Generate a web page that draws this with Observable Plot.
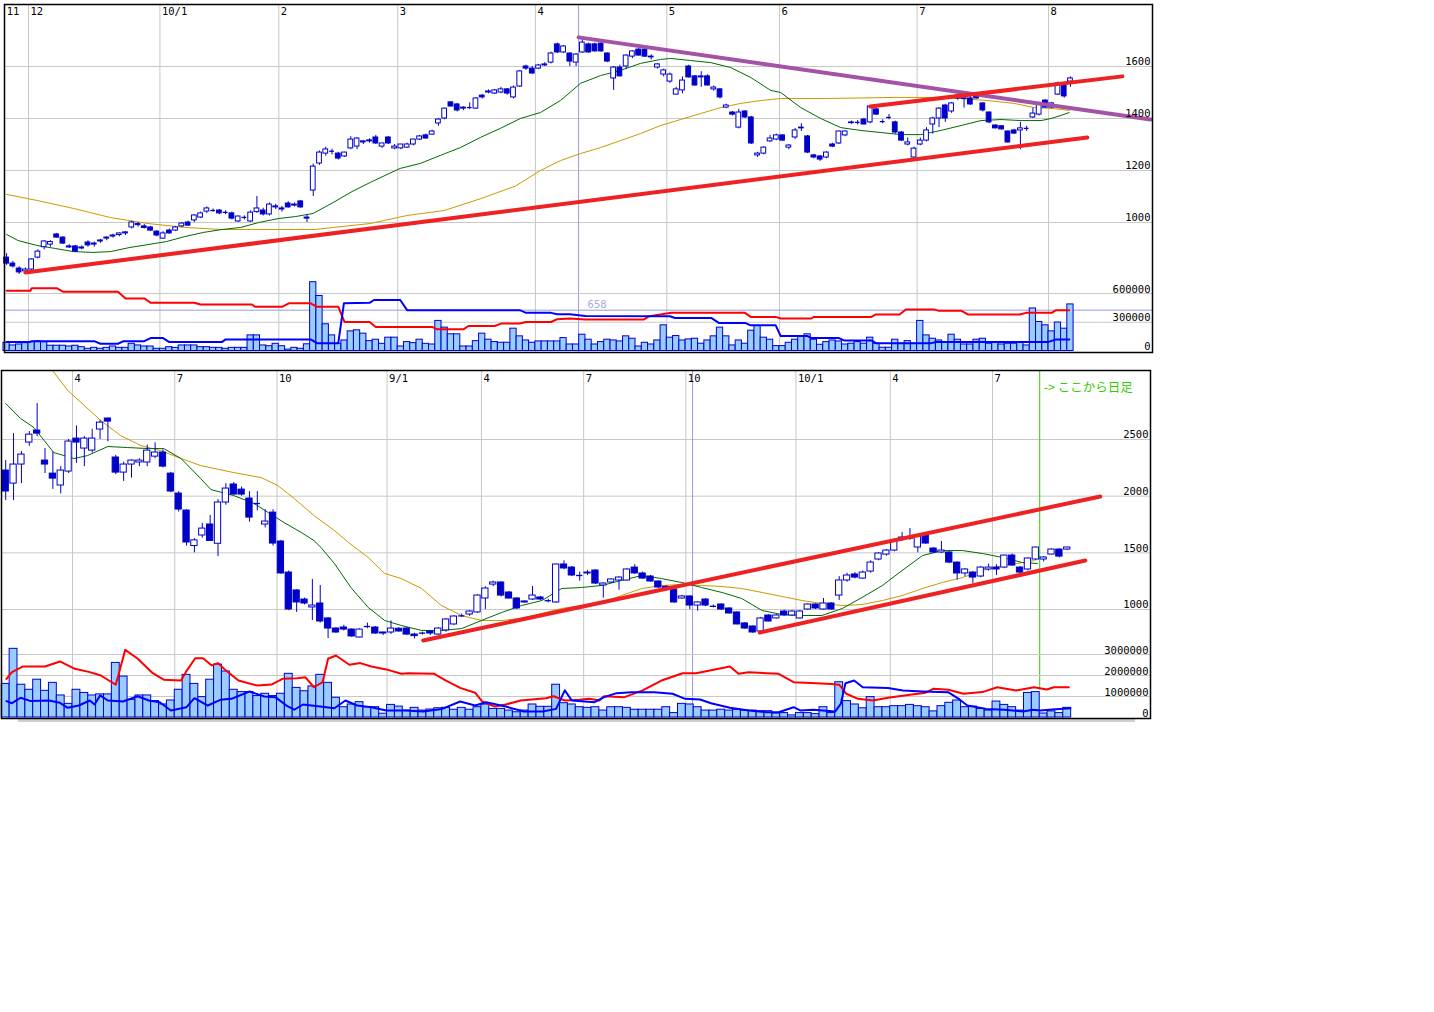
<!DOCTYPE html>
<html><head><meta charset="utf-8">
<script src="https://cdn.jsdelivr.net/npm/d3@7"></script>
<script src="https://cdn.jsdelivr.net/npm/@observablehq/plot@0.6"></script>
<style>
body{margin:0;background:#fff;}
#wrap{position:relative;width:1434px;height:1012px;overflow:hidden;background:#fff;}
#wrap svg{position:absolute;left:0;top:0;}
#scroll{position:absolute;left:18px;top:719px;width:1117px;height:3px;background:#cfcfcf;}
</style></head><body><div id="wrap"><div id="scroll"></div></div>
<script>
// ---------------- TOP PANEL (daily) ----------------
const topMonthLabels = ["11","12","10/1","2","3","4","5","6","7","8"];
const topMonthPos = [-0.3,3.5,24.5,43.5,62.5,84.5,105.5,123.5,145.5,166.5];
const topPriceTicks = [1000,1200,1400,1600];
const topVolTicks = [0,300,600];
const topVolLabels = ["0","300000","600000"];
// [open, high, low, close]
const topCandles = [
[865,880,835,842],[842,850,825,831],[823,830,800,808],[812,825,805,819],[819,860,815,858],
[865,895,860,888],[905,930,895,927],[915,930,905,925],[954,958,940,942],[942,945,915,919],
[908,915,900,904],[908,912,885,888],[900,910,895,904],[923,930,905,912],[915,925,905,919],
[927,935,920,931],[938,945,930,942],[946,955,940,950],[952,960,945,958],[958,965,950,962],
[981,1005,975,1000],[990,1000,982,994],[985,992,975,979],[981,985,965,969],[965,968,945,950],
[938,965,935,958],[969,975,955,958],[969,985,965,981],[985,1000,980,996],[1000,1005,985,988],
[1008,1030,1000,1027],[1019,1040,1015,1035],[1042,1060,1035,1054],[1046,1052,1040,1046],[1046,1050,1030,1035],
[1038,1045,1030,1040],[1035,1040,1010,1015],[1004,1025,1000,1023],[1019,1025,1010,1020],[1004,1045,1000,1038],
[1040,1100,1035,1054],[1046,1055,1025,1031],[1031,1075,1025,1069],[1058,1070,1050,1062],[1054,1062,1040,1050],
[1073,1080,1055,1058],[1065,1075,1060,1069],[1081,1085,1055,1058],[1019,1030,1000,1015],[1123,1225,1100,1215],
[1227,1275,1220,1269],[1265,1290,1255,1281],[1275,1282,1260,1273],[1265,1270,1240,1246],[1254,1270,1250,1269],
[1285,1330,1280,1319],[1292,1327,1280,1323],[1308,1315,1300,1312],[1312,1322,1305,1316],[1327,1335,1300,1304],
[1292,1305,1285,1304],[1327,1330,1300,1304],[1285,1300,1280,1292],[1285,1300,1280,1300],[1288,1305,1285,1300],
[1300,1320,1295,1319],[1319,1335,1315,1331],[1335,1340,1320,1323],[1338,1355,1335,1350],[1381,1400,1370,1396],
[1400,1440,1395,1438],[1462,1465,1445,1446],[1454,1458,1425,1431],[1438,1445,1430,1442],[1442,1460,1435,1442],
[1438,1480,1435,1477],[1488,1492,1475,1481],[1500,1510,1495,1504],[1496,1512,1492,1508],[1500,1520,1495,1512],
[1512,1515,1490,1496],[1481,1525,1475,1519],[1523,1585,1520,1581],[1600,1605,1585,1592],[1592,1600,1570,1573],
[1592,1608,1588,1604],[1604,1615,1600,1608],[1615,1655,1610,1650],[1685,1690,1650,1654],[1654,1680,1650,1677],
[1650,1652,1600,1619],[1615,1650,1600,1646],[1654,1705,1650,1692],[1685,1690,1650,1654],[1685,1690,1655,1658],
[1688,1692,1655,1658],[1650,1652,1615,1619],[1554,1600,1508,1596],[1596,1605,1560,1562],[1600,1645,1590,1642],
[1638,1660,1630,1658],[1665,1670,1640,1642],[1665,1668,1635,1638],[1638,1645,1625,1635],[1596,1612,1590,1608],
[1569,1590,1560,1585],[1542,1575,1535,1569],[1492,1520,1490,1512],[1508,1560,1495,1546],[1600,1605,1555,1558],
[1562,1565,1525,1527],[1558,1580,1520,1562],[1562,1568,1525,1527],[1512,1525,1505,1519],[1512,1515,1475,1481],
[1442,1455,1438,1450],[1423,1427,1410,1415],[1365,1435,1360,1423],[1427,1430,1400,1404],[1404,1408,1300,1304],
[1258,1270,1250,1265],[1265,1292,1260,1288],[1312,1335,1308,1323],[1319,1340,1315,1335],[1335,1338,1312,1315],
[1288,1300,1280,1296],[1327,1362,1320,1354],[1362,1380,1350,1365],[1331,1335,1265,1269],[1258,1262,1245,1250],
[1254,1258,1235,1242],[1250,1272,1245,1269],[1300,1305,1288,1292],[1304,1352,1300,1350],[1335,1352,1330,1350],
[1382,1390,1378,1385],[1385,1392,1375,1385],[1396,1400,1375,1377],[1385,1450,1380,1446],[1435,1438,1412,1415],
[1388,1395,1380,1388],[1404,1415,1395,1404],[1385,1390,1340,1346],[1346,1350,1312,1315],[1300,1325,1295,1308],
[1250,1290,1240,1284],[1300,1325,1295,1315],[1315,1365,1310,1354],[1377,1405,1340,1400],[1400,1442,1365,1438],
[1450,1455,1385,1400],[1427,1462,1420,1458],[1477,1500,1470,1488],[1475,1490,1440,1480],[1477,1485,1450,1454],
[1488,1495,1475,1477],[1458,1460,1425,1431],[1423,1425,1380,1385],[1373,1376,1360,1362],[1370,1373,1355,1358],
[1350,1352,1305,1308],[1354,1358,1338,1342],[1354,1385,1280,1362],[1362,1370,1350,1362],[1404,1440,1400,1419],
[1415,1462,1410,1458],[1469,1472,1440,1442],[1442,1462,1438,1458],[1492,1540,1488,1535],[1531,1535,1478,1485],
[1542,1560,1520,1554]
];
// volume in thousands of shares
const topVolume = [
86,58,68,82,93,100,93,55,55,55, 47,55,40,23,33,23,33,47,33,33,
75,58,47,47,23,23,40,33,58,58, 58,40,40,33,33,23,33,33,33,163,
163,58,50,75,50,15,33,23,70,718, 574,279,163,75,110,205,216,181,103,118,
75,139,139,47,93,82,118,75,68,314, 244,174,174,47,47,103,181,118,93,86,
86,233,153,110,86,100,100,100,100,135, 68,68,170,118,68,93,118,110,100,153,
128,47,86,68,110,268,139,156,110,121, 128,76,110,153,244,153,58,110,76,212,
261,139,118,51,51,86,118,156,174,118, 65,93,110,100,68,76,93,76,139,76,
34,34,118,76,103,76,314,163,128,110, 86,170,118,68,68,118,128,76,86,68,
76,76,86,58,444,303,268,205,297,233, 486
];
// moving averages [candle index, price]
const topMA25 = [[0,954],[1.8,931],[4.8,912],[7.8,900],[10.7,888],[13.8,885],[16.6,888],[19.7,904],[22.6,915],[25.6,927],[28.5,946],[31.5,962],[34.4,973],[37.4,981],[40.3,1000],[43.4,1015],[46.2,1023],[49,1035],[52.2,1077],[55.2,1119],[58.1,1154],[61.1,1188],[62.9,1208],[66.1,1227],[69.3,1258],[72.5,1288],[75.7,1327],[78.9,1362],[82.1,1400],[85.3,1423],[88.5,1469],[91.7,1535],[94.9,1565],[98.1,1585],[101.3,1612],[104.5,1627],[106.1,1631],[109.3,1623],[112.5,1615],[115.7,1596],[118.9,1558],[122.1,1508],[123.7,1500],[126.9,1442],[130.1,1400],[133.3,1365],[136.5,1354],[139.7,1346],[142.9,1338],[146.1,1338],[149.3,1354],[152.5,1373],[155.7,1392],[158.9,1396],[162.1,1392],[165.3,1392],[166.9,1400],[168.5,1412],[169.8,1423]];
const topMA75 = [[0,1108],[4.8,1085],[10.7,1054],[16.6,1019],[22.6,996],[28.5,981],[34.4,973],[40.3,973],[46.2,973],[49.3,973],[52.2,981],[58.1,996],[64,1027],[69.9,1046],[75.8,1092],[81.3,1140],[85.3,1200],[88.5,1238],[91.7,1265],[94.9,1288],[98.1,1315],[101.3,1342],[104.5,1373],[107.7,1396],[110.9,1419],[114.1,1442],[117.3,1458],[120.5,1469],[123.7,1477],[131.2,1477],[141.8,1481],[149.8,1481],[156.8,1469],[161,1458],[164.2,1442],[167.4,1438],[169.8,1431]];
const topTrendRed1 = [[3.0,808],[172.7,1327]];
const topTrendRed2 = [[138.0,1446],[178.3,1562]];
const topTrendPurple = [[91.4,1712],[182.8,1396]];
// margin balance lines (thousands) [index, value]
const topVolRed = [[0,629],[3.8,629],[4,655],[8,655],[9,619],[17.8,619],[19,549],[22,549],[23,503],[30,503],[31,486],[39.2,486],[39.7,461],[44,461],[45.1,497],[48.6,497],[49.6,461],[53,461],[54,303],[58,303],[59,251],[68,251],[68.8,226],[73,226],[73.8,261],[78,261],[79,286],[82,286],[83,303],[87,303],[88,332],[90,339],[92.5,328],[101.8,328],[102.7,363],[106.2,398],[118,398],[118.9,356],[122.9,356],[123.7,339],[128.6,339],[129,356],[138.2,356],[138.9,381],[142.7,381],[143.7,434],[148.2,434],[149,419],[152.6,419],[153.6,381],[161.9,381],[162.9,398],[167,398],[167.7,426],[169.8,426]];
const topVolBlue = [[0,93],[3.7,93],[4,103],[14,103],[15,76],[17.8,76],[18.7,103],[22,103],[23,135],[25,135],[26,93],[34.4,93],[35,121],[48.6,121],[49.6,82],[53,82],[53.9,497],[58,503],[58.7,532],[62.9,532],[64,426],[82,426],[83,398],[87,398],[88,384],[90,384],[92.5,366],[106,363],[106.8,345],[112.6,345],[113.8,293],[118,293],[118.9,268],[122.9,268],[123.7,156],[128,156],[128.6,135],[133,135],[133.8,110],[138.2,110],[138.9,82],[147.8,82],[148.5,93],[166.4,93],[167.7,121],[169.8,121]];
const topCursorX = 91.4, topCursorVol = 426, topCursorLabel = "658";

// ---------------- BOTTOM PANEL (weekly, then daily) ----------------
const botMonthLabels = ["4","7","10","9/1","4","7","10","10/1","4","7"];
const botMonthPos = [8.5,21.5,34.5,48.5,60.5,73.5,86.5,100.5,112.5,125.5];
const botPriceTicks = [1000,1500,2000,2500];
const botVolTicks = [0,1,2,3];
const botVolLabels = ["0","1000000","2000000","3000000"];
const botCandles = [
[2226,2314,1961,2041],[2111,2552,1961,2279],[2279,2393,2111,2367],[2473,2570,2440,2543],[2579,2817,2526,2552],
[2314,2420,2200,2279],[2199,2390,2060,2155],[2094,2260,2020,2226],[2217,2500,2200,2482],[2508,2620,2290,2473],
[2420,2526,2260,2508],[2402,2590,2380,2508],[2588,2670,2500,2649],[2685,2690,2480,2658],[2341,2360,2190,2208],
[2208,2300,2130,2279],[2279,2320,2160,2314],[2297,2330,2260,2314],[2297,2450,2260,2402],[2349,2470,2330,2385],
[2385,2410,2250,2261],[2199,2210,2030,2041],[2023,2040,1860,1882],[1873,1880,1560,1591],[1560,1625,1500,1610],
[1653,1760,1630,1714],[1750,1830,1600,1605],[1580,1970,1467,1944],[1944,2110,1920,2067],[2103,2120,2010,2014],
[2058,2080,2000,2014],[1979,2040,1770,1811],[1935,2040,1870,1935],[1750,1880,1720,1776],[1855,1880,1560,1582],
[1600,1610,1310,1318],[1326,1340,990,1000],[1168,1175,974,1062],[1088,1100,1040,1053],[1018,1265,903,1035],
[1053,1212,880,894],[921,930,744,832],[832,840,790,797],[841,860,810,823],[823,830,755,762],
[753,830,750,823],[850,880,830,850],[841,850,780,788],[797,800,770,788],[797,900,780,832],
[830,840,800,806],[832,840,770,779],[779,790,740,765],[788,800,775,795],[806,815,770,788],
[779,840,770,832],[815,920,800,912],[868,945,860,938],[940,960,930,947],[956,990,940,982],
[974,1130,965,1123],[1097,1200,1000,1185],[1220,1250,1200,1238],[1238,1245,1110,1123],[1150,1160,1090,1097],
[1097,1105,1000,1009],[1062,1075,1055,1071],[1088,1203,1080,1123],[1106,1115,1080,1088],[1075,1090,1060,1080],
[1062,1400,1055,1397],[1397,1430,1350,1362],[1370,1380,1290,1300],[1300,1330,1250,1300],[1318,1345,1300,1326],
[1344,1350,1220,1229],[1212,1235,1100,1229],[1238,1272,1230,1265],[1256,1290,1170,1282],[1256,1360,1250,1353],
[1370,1395,1310,1318],[1318,1330,1265,1273],[1291,1300,1240,1247],[1247,1255,1185,1194],[1200,1210,1170,1190],
[1176,1180,1055,1062],[1097,1125,1090,1115],[1115,1120,1000,1035],[1035,1070,985,1062],[1088,1095,1025,1035],
[1030,1040,1015,1026],[1044,1050,990,1000],[1009,1015,960,965],[974,980,865,868],[877,885,825,832],
[850,855,790,797],[806,930,800,921],[947,955,890,894],[921,955,915,947],[982,995,940,947],
[947,990,940,982],[921,990,915,982],[1000,1050,995,1044],[1044,1050,1000,1009],[1000,1097,995,1053],
[1053,1060,995,1000],[1123,1290,1080,1256],[1256,1320,1240,1300],[1309,1325,1270,1282],[1273,1340,1265,1326],
[1335,1430,1320,1414],[1441,1500,1430,1494],[1485,1530,1470,1520],[1520,1615,1510,1608],[1626,1679,1600,1635],
[1625,1714,1610,1640],[1547,1660,1500,1653],[1653,1660,1575,1582],[1538,1545,1495,1503],[1503,1600,1494,1520],
[1503,1510,1405,1414],[1414,1420,1260,1318],[1318,1362,1290,1353],[1326,1335,1230,1282],[1291,1380,1280,1370],
[1353,1400,1340,1370],[1370,1395,1300,1353],[1370,1480,1360,1476],[1476,1490,1380,1388],[1370,1380,1310,1326],
[1353,1455,1340,1450],[1441,1550,1430,1547],[1441,1465,1420,1459],[1485,1535,1480,1529],[1529,1535,1455,1467],
[1529,1550,1520,1547]
];
// volume in millions of shares
const botVolume = [
1.60,3.27,1.56,1.32,1.80,1.27,1.65,1.05,0.65,1.32, 1.17,1.05,1.10,1.10,2.60,1.95,0.84,1.05,1.05,0.78,
0.62,0.81,1.32,2.03,1.60,0.97,1.80,2.52,2.19,1.32, 1.21,1.21,1.02,1.13,1.02,1.13,2.08,1.41,1.25,1.48,
2.03,1.65,0.94,0.49,0.62,0.73,0.49,0.49,0.18,0.60, 0.52,0.33,0.46,0.33,0.38,0.44,0.46,0.37,0.46,0.37,
0.49,0.62,0.41,0.41,0.33,0.25,0.33,0.62,0.51,0.51, 1.56,0.68,0.62,0.49,0.46,0.49,0.33,0.49,0.49,0.46,
0.37,0.37,0.37,0.37,0.49,0.21,0.65,0.62,0.49,0.33, 0.33,0.37,0.33,0.37,0.33,0.33,0.30,0.30,0.19,0.21,
0.10,0.21,0.21,0.16,0.49,0.21,1.68,0.78,0.62,0.44, 0.97,0.49,0.49,0.54,0.54,0.60,0.54,0.49,0.29,0.54,
0.70,0.81,0.49,0.52,0.41,0.33,0.76,0.60,0.49,0.33, 1.17,1.21,0.19,0.29,0.21,0.46
];
const botMA13 = [[0,2817],[1.9,2685],[3.6,2605],[6.1,2385],[8.7,2332],[10.4,2358],[13,2438],[15.5,2429],[18.1,2420],[20.1,2420],[22.3,2332],[24.8,2155],[26.1,2058],[29,2005],[31.6,1935],[33.4,1855],[35.4,1767],[37.6,1679],[39.2,1609],[40.1,1547],[41.8,1406],[43.9,1194],[46.1,1018],[48.2,903],[50.3,859],[52.9,815],[55.4,815],[58,832],[60.5,903],[63.1,974],[65.6,1035],[68.2,1079],[70.7,1185],[73.2,1194],[75.8,1212],[78.3,1256],[80.9,1300],[83.4,1273],[86,1238],[88.5,1194],[91.1,1150],[93.6,1097],[96.2,991],[98.7,956],[101.3,947],[103.8,947],[106.4,1009],[108.9,1106],[111.5,1212],[114,1344],[116.6,1476],[119.1,1520],[121.7,1520],[124.2,1494],[126.8,1459],[129.3,1414],[131.2,1406]];
const botMA26 = [[5.5,3150],[7.9,2932],[12.1,2667],[14.6,2535],[17.2,2446],[19.7,2402],[22.3,2332],[24.8,2270],[29,2208],[32.5,2164],[34.6,2094],[36.7,1979],[39.2,1829],[41.8,1697],[43.6,1591],[46.1,1459],[48.2,1318],[50.3,1273],[52.9,1185],[55.4,1035],[58,947],[60.5,903],[63.1,903],[65.6,921],[68.2,965],[70.7,1009],[73.2,1035],[75.8,1062],[78.3,1123],[80.9,1185],[83.4,1212],[86,1220],[88.5,1212],[91.1,1203],[93.6,1185],[96.2,1150],[98.7,1115],[101.3,1079],[103.8,1053],[106.4,1035],[108.9,1044],[111.5,1079],[114,1123],[116.6,1185],[119.1,1238],[121.7,1282],[124.2,1344],[126.8,1388],[129.3,1414],[130.8,1432]];
const botTrendRed1 = [[53.1,727],[139.2,1997]];
const botTrendRed2 = [[95.9,797],[137.3,1432]];
const botVolRed = [[0.1,1.84],[0.8,2.16],[2.2,2.43],[5,2.43],[6.9,2.67],[8.8,2.32],[10.7,2.16],[12.1,2.0],[14,1.56],[15.2,3.22],[16.8,2.80],[18.7,2.11],[20.1,1.80],[22.3,1.76],[22.9,2.16],[24.1,2.82],[25.1,2.82],[26.2,2.48],[27,2.59],[27.9,2.27],[29.6,1.76],[32,1.52],[33.8,1.57],[35.2,1.84],[37.1,1.87],[38.1,1.92],[39.2,1.44],[40.3,1.68],[41,2.80],[42,2.95],[43.7,2.51],[45.1,2.59],[46.5,2.43],[48.4,2.29],[50.3,2.08],[51.2,2.11],[54.5,2.08],[56,1.76],[57.8,1.41],[59.7,1.18],[60.6,0.76],[62.2,0.52],[63.6,0.62],[65.5,0.81],[68.7,0.92],[69.7,1.01],[71.1,0.81],[73,0.84],[74.2,0.89],[75.5,0.81],[76.1,1.01],[78.7,0.97],[81,1.29],[83.4,1.76],[86.1,2.11],[87.8,2.11],[92.1,2.43],[93.2,2.08],[94.5,2.16],[96.8,2.11],[98.3,2.08],[100.2,1.68],[103.1,1.63],[105,1.60],[106,1.56],[106.9,1.13],[108.4,0.89],[110.3,0.81],[112.2,0.94],[115,1.08],[117,1.18],[118,1.37],[119.9,1.32],[121.8,1.13],[124.2,1.21],[126.1,1.44],[128.5,1.29],[130.8,1.44],[132.4,1.33],[133.3,1.44],[135.2,1.44]];
const botVolBlue = [[0.1,0.78],[0.8,0.68],[1.9,0.94],[3.2,0.78],[5.5,0.81],[6.9,0.70],[7.9,0.46],[9.3,0.57],[10.7,0.81],[11.3,0.62],[12,1.05],[13,0.81],[14.9,0.76],[16.8,1.01],[18.2,0.81],[19.6,0.73],[21,0.33],[23,0.49],[24,0.92],[25.7,0.57],[27.3,0.84],[28.7,0.89],[31,1.24],[32.9,1.0],[34.3,0.97],[35.7,0.57],[36.7,0.37],[37.8,0.62],[40,0.52],[41.8,0.44],[43.2,0.81],[44.7,0.57],[46.5,0.49],[48.4,0.33],[50.8,0.33],[53.1,0.29],[55.5,0.41],[57.8,0.76],[59.7,0.57],[61.1,0.73],[63.6,0.52],[65.9,0.29],[68.3,0.29],[70,0.41],[71.1,1.29],[72,0.81],[74.9,0.73],[76.1,0.97],[77.7,1.16],[79.6,1.20],[82.5,1.20],[84.8,1.13],[86.4,0.89],[88.3,0.86],[89.7,0.68],[92.1,0.46],[94.5,0.33],[96.8,0.25],[98.3,0.25],[100.2,0.49],[101.1,0.33],[102.7,0.37],[105.5,0.29],[106.2,0.65],[106.8,1.63],[107.9,1.76],[109,1.44],[112.2,1.41],[114.1,1.29],[116.6,1.24],[119.9,1.20],[121.3,0.86],[122.3,0.57],[124.7,0.41],[127,0.37],[129.4,0.29],[130.6,0.37],[131.6,0.33],[132.7,0.37],[135.4,0.44]];
const botCursorX = 87.35;
const dailyStartX = 131.5;
const dailyLabel = "-> ここから日足";

// ---------------- drawing ----------------
const W = 1160, H = 730;
const CANDLE = "#0000c8", GRID = "#c8c8c8", LAV = "#9b9be0";
const MA_SHORT = "#006a00", MA_LONG = "#cc9900", TREND = "#ee2222", PURPLE = "#a452a6";
const VOLFILL = "#99ccff", VOLSTROKE = "#0000cc";
const NUMFONT = "DejaVu Sans Mono";
const wrap = document.getElementById("wrap");
const P = d => d[0], V = d => d[1];

function rows(arr){ return arr.map(([o,h,l,c],i)=>({i,o,h,l,c})); }
function candleMarks(data, hw, flatTol){
  const bodies = data.filter(d => Math.abs(d.o-d.c) >= flatTol);
  const flats = data.filter(d => Math.abs(d.o-d.c) < flatTol);
  return [
    Plot.ruleX(data, {x:"i", y1:"l", y2:"h", stroke: CANDLE, strokeWidth: 1}),
    Plot.rect(bodies, {x1: d=>d.i-hw, x2: d=>d.i+hw, y1:"o", y2:"c",
      fill: d => d.c > d.o ? "white" : CANDLE, stroke: CANDLE, strokeWidth: 1}),
    Plot.ruleY(flats, {y: d=>(d.o+d.c)/2, x1: d=>d.i-hw, x2: d=>d.i+hw, stroke: CANDLE, strokeWidth: 1.3})
  ];
}
function add(svg){ wrap.appendChild(svg); }

const topM = {width: W, height: H, marginTop: 4, marginBottom: H-352, marginLeft: 4, marginRight: W-1152,
  style: {background: "transparent", overflow: "visible"}};
const topX = {domain: [-0.336, 183.11], range: [4, 1152], axis: null};
const numText = {fontFamily: NUMFONT, fontSize: 10.5, fill: "black"};

// top price
add(Plot.plot({...topM, x: topX,
  y: {domain: [500, 1838.46], range: [352, 4], axis: null},
  marks: [
    Plot.ruleY(topPriceTicks, {stroke: GRID}),
    Plot.ruleX(topMonthPos.slice(1), {stroke: GRID}),
    Plot.ruleX([topCursorX], {stroke: LAV}),
    Plot.line(topMA75, {x: P, y: V, stroke: MA_LONG, strokeWidth: 1}),
    Plot.line(topMA25, {x: P, y: V, stroke: MA_SHORT, strokeWidth: 1}),
    ...candleMarks(rows(topCandles), 0.38, 3),
    Plot.line(topTrendRed1, {x: P, y: V, stroke: TREND, strokeWidth: 4, clip: true}),
    Plot.line(topTrendPurple, {x: P, y: V, stroke: PURPLE, strokeWidth: 4, clip: true}),
    Plot.line(topTrendRed2, {x: P, y: V, stroke: TREND, strokeWidth: 4, clip: true}),
    Plot.text(topPriceTicks, {y: d=>d, text: d=>String(d), frameAnchor: "right", textAnchor: "end", lineAnchor: "bottom", dx: -2, dy: -1, ...numText}),
    Plot.text(topMonthPos.map((x,k)=>({x, t: topMonthLabels[k]})), {x: "x", text: "t", frameAnchor: "top", textAnchor: "start", lineAnchor: "top", dx: 2, dy: 3, ...numText})
  ]}));

// top volume
add(Plot.plot({...topM, x: topX,
  y: {domain: [0, 600], range: [350.5, 293], axis: null},
  marks: [
    Plot.ruleY(topVolTicks.filter(v=>v>0), {stroke: GRID}),
    Plot.ruleY([topCursorVol], {stroke: LAV}),
    Plot.rect(topVolume.map((v,i)=>({i,v})), {x1: d=>d.i-0.5, x2: d=>d.i+0.5, y1: 0, y2: "v", fill: VOLFILL, stroke: VOLSTROKE, strokeWidth: 1}),
    Plot.line(topVolRed, {x: P, y: V, stroke: "#ff0000", strokeWidth: 2}),
    Plot.line(topVolBlue, {x: P, y: V, stroke: "#0000ff", strokeWidth: 2}),
    Plot.text(topVolTicks.map((v,k)=>({v, t: topVolLabels[k]})), {y: "v", text: "t", frameAnchor: "right", textAnchor: "end", lineAnchor: "bottom", dx: -2, dy: -1, ...numText}),
    Plot.text([{x: topCursorX, v: topCursorVol}], {x: "x", y: "v", text: ()=>topCursorLabel, textAnchor: "start", lineAnchor: "bottom", dx: 9, dy: -2, fontFamily: NUMFONT, fontSize: 10.5, fill: "#a8a8dc"}),
    Plot.frame({stroke: "black", strokeWidth: 1.5})
  ]}));

// bottom panel
const botM = {width: W, height: H, marginTop: 370, marginBottom: H-718, marginLeft: 1, marginRight: W-1150,
  style: {background: "transparent", overflow: "visible"}};
const botX = {domain: [-0.534, 145.59], range: [1, 1150], axis: null};

add(Plot.plot({...botM, x: botX,
  y: {domain: [38.2, 3108.8], range: [718, 370], axis: null},
  marks: [
    Plot.ruleY(botPriceTicks, {stroke: GRID}),
    Plot.ruleX(botMonthPos, {stroke: GRID}),
    Plot.ruleX([botCursorX], {stroke: LAV}),
    Plot.ruleX([dailyStartX], {y1: 286, y2: 3108.8, stroke: "#33cc00", strokeWidth: 1}),
    Plot.line(botMA26, {x: P, y: V, stroke: MA_LONG, strokeWidth: 1, clip: true}),
    Plot.line(botMA13, {x: P, y: V, stroke: MA_SHORT, strokeWidth: 1, clip: true}),
    ...candleMarks(rows(botCandles), 0.4, 8),
    Plot.line(botTrendRed1, {x: P, y: V, stroke: TREND, strokeWidth: 4, clip: true}),
    Plot.line(botTrendRed2, {x: P, y: V, stroke: TREND, strokeWidth: 4, clip: true}),
    Plot.text(botPriceTicks, {y: d=>d, text: d=>String(d), frameAnchor: "right", textAnchor: "end", lineAnchor: "bottom", dx: -2, dy: -1, ...numText}),
    Plot.text(botMonthPos.map((x,k)=>({x, t: botMonthLabels[k]})), {x: "x", text: "t", frameAnchor: "top", textAnchor: "start", lineAnchor: "top", dx: 2, dy: 4, ...numText}),
    Plot.text([dailyStartX], {x: d=>d, text: ()=>dailyLabel, frameAnchor: "top", textAnchor: "start", lineAnchor: "top", dx: 4, dy: 13, fontFamily: "Noto Sans CJK JP", fontSize: 12.5, fill: "#33cc00"})
  ]}));

add(Plot.plot({...botM, x: botX,
  y: {domain: [0, 3], range: [717, 654], axis: null},
  marks: [
    Plot.ruleY(botVolTicks.filter(v=>v>0), {stroke: GRID}),
    Plot.rect(botVolume.map((v,i)=>({i,v})), {x1: d=>d.i-0.5, x2: d=>d.i+0.5, y1: 0, y2: "v", fill: VOLFILL, stroke: VOLSTROKE, strokeWidth: 1}),
    Plot.line(botVolRed, {x: P, y: V, stroke: "#ff0000", strokeWidth: 2}),
    Plot.line(botVolBlue, {x: P, y: V, stroke: "#0000ff", strokeWidth: 2}),
    Plot.text(botVolTicks.map((v,k)=>({v, t: botVolLabels[k]})), {y: "v", text: "t", frameAnchor: "right", textAnchor: "end", lineAnchor: "bottom", dx: -2, dy: -1, ...numText}),
    Plot.frame({stroke: "black", strokeWidth: 1.5})
  ]}));
</script></body></html>
